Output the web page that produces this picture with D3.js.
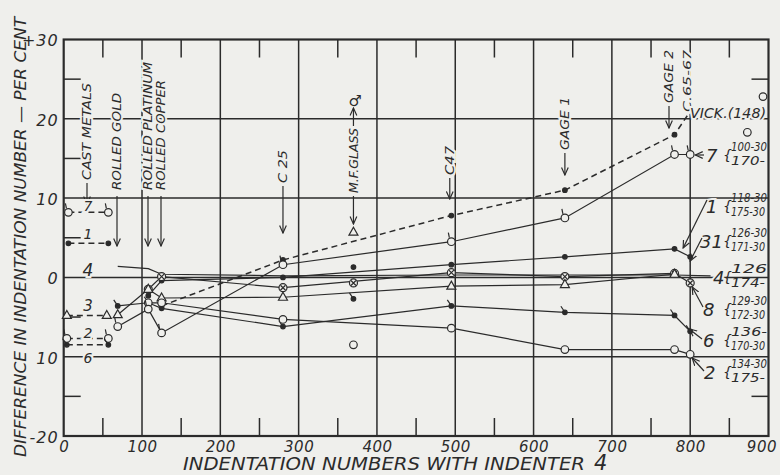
<!DOCTYPE html>
<html>
<head>
<meta charset="utf-8">
<script src="https://cdn.jsdelivr.net/npm/d3@7"></script>
<style>
  body { margin: 0; background: #efefec; }
  svg { display: block; }
  text { font-family: "DejaVu Sans", sans-serif; font-style: italic; fill: #2b2b2b; }
</style>
</head>
<body>
<div id="chart"></div>
<script>
// ---- data ----
const xTicks = [0, 100, 200, 300, 400, 500, 600, 700, 800, 900];
const yTicks = [30, 20, 10, 0, -10, -20];
const yTickLabels = ["+30", "20", "10", "0", "10", "-20"];

// cast metals (dashed pairs)
const cast7 = [[6, 8.2], [57, 8.2]];
const cast1 = [[6, 4.3], [57, 4.3]];
const cast3 = [[4, -4.8], [55, -4.8]];
const cast2 = [[4, -7.7], [57, -7.7]];
const cast6 = [[4, -8.5], [57, -8.5]];

// main series
const s7 = [[69, -6.2], [108, -4.0], [125, -7.0], [280, 1.6], [495, 4.5], [640, 7.5], [780, 15.5], [800, 15.5]];
const vick = [[125, -3.6], [280, 2.2], [495, 7.8], [640, 11.0], [780, 18.0], [797, 20.5]];
const s1 = [[108, -2.3], [125, -0.4], [280, 0.0], [495, 1.6], [640, 2.6], [780, 3.6], [800, 2.6]];
const s4 = [[69, 1.4], [108, 1.1], [125, 0.4], [280, 0.2], [495, 0.3], [640, 0.3], [780, 0.3], [826, 0.2]];
const s8 = [[108, -1.5], [125, 0.1], [280, -1.3], [495, 0.6], [640, 0.1], [780, 0.5], [800, -0.7]];
const s3 = [[69, -4.7], [108, -1.5], [125, -2.6], [280, -2.5], [495, -1.1], [640, -0.9], [780, 0.4]];
const s6 = [[69, -3.6], [108, -3.2], [125, -3.9], [280, -6.2], [495, -3.6], [640, -4.4], [780, -4.8], [800, -6.8]];
const s2 = [[108, -3.2], [125, -3.2], [280, -5.3], [495, -6.4], [640, -9.1], [780, -9.1], [800, -9.7]];

// M.F. glass single points
const glassX = 370;
const glassVals = [5.7, 1.3, -0.7, -2.7, -8.5];
const glassKinds = ["tri", "dot", "cross", "dotTick", "circle"];

const sideLabels = [
  { n: "7", a: "100-30", b: "170-" },
  { n: "1", a: "118-30", b: "175-30" },
  { n: "31", a: "126-30", b: "171-30" },
  { n: "4", a: "126", b: "174-" },
  { n: "8", a: "129-30", b: "172-30" },
  { n: "6", a: "136-", b: "170-30" },
  { n: "2", a: "134-30", b: "175-" }
];

// ---- drawing ----
const W = 780, H = 475, ink = "#2b2b2b", bg = "#efefec";
const svg = d3.select("#chart").append("svg").attr("width", W).attr("height", H);
svg.append("rect").attr("width", W).attr("height", H).attr("fill", bg);

const x = d3.scaleLinear().domain([0, 900]).range([63.7, 768.5]);
const y = d3.scaleLinear().domain([-20, 30]).range([436, 39.5]);

svg.append("defs").append("marker")
  .attr("id", "ah").attr("viewBox", "0 0 10 10").attr("refX", 9).attr("refY", 5)
  .attr("markerWidth", 7).attr("markerHeight", 7).attr("orient", "auto-start-reverse")
  .append("path").attr("d", "M0,1 L9,5 L0,9").attr("fill", "none").attr("stroke", ink).attr("stroke-width", 1.4);

// grid
const grid = svg.append("g").attr("stroke", ink);
grid.selectAll(".vg").data(xTicks.slice(1, -1)).join("line")
  .attr("x1", d => x(d)).attr("x2", d => x(d)).attr("y1", y(30)).attr("y2", y(-20)).attr("stroke-width", 1.5);
grid.selectAll(".hg").data([20, 10, 0, -10]).join("line")
  .attr("x1", x(0)).attr("x2", x(900)).attr("y1", d => y(d)).attr("y2", d => y(d)).attr("stroke-width", 1.5);

// minor ticks
grid.selectAll(".tt").data(d3.range(50, 900, 100)).join("line")
  .attr("x1", d => x(d)).attr("x2", d => x(d)).attr("y1", y(30)).attr("y2", y(30) + 18).attr("stroke-width", 1.5);
grid.selectAll(".bt").data(d3.range(50, 900, 100)).join("line")
  .attr("x1", d => x(d)).attr("x2", d => x(d)).attr("y1", y(-20)).attr("y2", y(-20) - 18).attr("stroke-width", 1.5);
grid.selectAll(".lt").data([25, 15, 5, -5, -15]).join("line")
  .attr("x1", x(0)).attr("x2", x(0) + 17).attr("y1", d => y(d)).attr("y2", d => y(d)).attr("stroke-width", 1.5);
grid.selectAll(".rt").data([25, -15]).join("line")
  .attr("x1", x(900)).attr("x2", x(900) - 17).attr("y1", d => y(d)).attr("y2", d => y(d)).attr("stroke-width", 1.5);

svg.append("rect").attr("x", x(0)).attr("y", y(30)).attr("width", x(900) - x(0)).attr("height", y(-20) - y(30))
  .attr("fill", "none").attr("stroke", ink).attr("stroke-width", 2.2);

// axes labels
const xAxis = svg.append("g").attr("transform", `translate(0,${y(-20)})`)
  .call(d3.axisBottom(x).tickValues(xTicks).tickSize(0).tickPadding(5));
xAxis.select(".domain").remove();
xAxis.selectAll("text").attr("font-size", 15).attr("font-family", "DejaVu Sans").attr("fill", ink)
  .attr("letter-spacing", 0.5)
  .attr("text-anchor", d => d === 900 ? "end" : "middle")
  .attr("dx", d => d === 900 ? 8 : 0);

const yAxis = svg.append("g").attr("transform", `translate(${x(0)},0)`)
  .call(d3.axisLeft(y).tickValues(yTicks).tickSize(0).tickPadding(5)
    .tickFormat((d, i) => yTickLabels[i]));
yAxis.select(".domain").remove();
yAxis.selectAll("text").attr("font-size", 16).attr("font-family", "DejaVu Sans").attr("fill", ink)
  .attr("letter-spacing", 1).attr("dy", "0.4em");

svg.append("text").attr("x", 183).attr("y", 470).attr("font-size", 17)
  .attr("textLength", 402).attr("lengthAdjust", "spacingAndGlyphs")
  .text("INDENTATION NUMBERS WITH INDENTER");
svg.append("text").attr("x", 594).attr("y", 470).attr("font-size", 21).text("4");

svg.append("text").attr("transform", "translate(26,457) rotate(-90)").attr("font-size", 16)
  .attr("textLength", 440).attr("lengthAdjust", "spacingAndGlyphs")
  .text("DIFFERENCE IN INDENTATION NUMBER \u2014 PER CENT");

// series
const line = d3.line().x(d => x(d[0])).y(d => y(d[1]));
const plot = svg.append("g").attr("fill", "none").attr("stroke", ink);

function drawLine(data, dashed) {
  plot.append("path").datum(data).attr("d", line).attr("stroke-width", dashed ? 1.5 : 1.2)
    .attr("stroke-dasharray", dashed ? "6,4" : null);
}

function marker(kind, d) {
  const px = x(d[0]), py = y(d[1]);
  const g = svg.append("g").attr("stroke", ink).attr("stroke-width", 1.2);
  if (kind === "circle" || kind === "circleFlag") {
    g.append("circle").attr("cx", px).attr("cy", py).attr("r", 3.8).attr("fill", bg);
    if (kind === "circleFlag") g.append("line").attr("x1", px - 2).attr("y1", py - 4).attr("x2", px - 3).attr("y2", py - 9);
  } else if (kind === "dot") {
    g.append("circle").attr("cx", px).attr("cy", py).attr("r", 2.3).attr("fill", ink);
  } else if (kind === "dotTick") {
    g.append("circle").attr("cx", px).attr("cy", py).attr("r", 2.3).attr("fill", ink);
    g.append("line").attr("x1", px).attr("y1", py).attr("x2", px - 4).attr("y2", py - 6);
  } else if (kind === "tri") {
    g.append("path").attr("d", `M${px},${py - 5}L${px + 4.5},${py + 3}L${px - 4.5},${py + 3}Z`).attr("fill", bg);
  } else if (kind === "cross") {
    g.append("circle").attr("cx", px).attr("cy", py).attr("r", 4).attr("fill", bg);
    g.append("path").attr("d", `M${px - 2.5},${py - 2.5}L${px + 2.5},${py + 2.5}M${px + 2.5},${py - 2.5}L${px - 2.5},${py + 2.5}`);
  }
}

[cast7, cast1, cast3, cast2, cast6].forEach(s => drawLine(s, true));
drawLine(vick, true);
[s7, s1, s4, s8, s3, s6, s2].forEach(s => drawLine(s, false));

cast7.forEach(d => marker("circleFlag", d));
cast1.forEach(d => marker("dot", d));
cast3.forEach(d => marker("tri", d));
cast2.forEach(d => marker("circleFlag", d));
cast6.forEach(d => marker("dotTick", d));
vick.slice(0, -1).forEach(d => marker("dot", d));
s1.forEach(d => marker("dot", d));
s8.forEach(d => marker("cross", d));
s3.forEach(d => marker("tri", d));
s6.forEach(d => marker("dotTick", d));
s2.forEach(d => marker("circle", d));
s7.forEach(d => marker("circleFlag", d));
glassVals.forEach((v, i) => marker(glassKinds[i], [glassX, v]));
marker("circle", [893, 22.8]);
marker("circle", [873, 18.3]);

// vertical annotations
const halo = t => t.attr("stroke", bg).attr("stroke-width", 4).attr("paint-order", "stroke");
function vText(str, xc, bottom, top, fs) {
  svg.append("text").attr("transform", `translate(${xc + fs * 0.36},${bottom}) rotate(-90)`)
    .attr("font-size", fs).attr("textLength", bottom - top).attr("lengthAdjust", "spacingAndGlyphs")
    .call(halo).text(str);
}
function arrow(x1, y1, x2, y2) {
  svg.append("line").attr("x1", x1).attr("y1", y1).attr("x2", x2).attr("y2", y2)
    .attr("stroke", ink).attr("stroke-width", 1.2).attr("marker-end", "url(#ah)");
}

vText("CAST METALS", 87, 180, 83, 12); arrow(87, 183, 87, 204);
vText("ROLLED GOLD", 117, 190, 93, 12); arrow(117, 196, 117, 246);
vText("ROLLED PLATINUM", 148, 190, 62, 12); arrow(148, 196, 148, 246);
vText("ROLLED COPPER", 161, 190, 80, 12); arrow(161, 196, 161, 246);
vText("C 25", x(280), 183, 150, 12); arrow(x(280), 186, x(280), 233);
vText("M.F.GLASS", x(370), 193, 128, 12); arrow(x(370), 196, x(370), 224); arrow(x(370), 126, x(370), 108);
svg.append("text").attr("x", x(370) - 5).attr("y", 106).attr("font-size", 15).attr("font-style", "normal").text("\u2642");
vText("C47", x(493), 175, 146, 12); arrow(x(493), 178, x(493), 199);
vText("GAGE 1", x(640), 150, 97, 12); arrow(x(640), 153, x(640), 175);
vText("GAGE 2", 669, 103, 50, 12); arrow(669, 106, 669, 128);
vText("C.65-67", 687, 112, 50, 11);
svg.append("text").attr("x", 690).attr("y", 118).attr("font-size", 14)
  .attr("textLength", 76).attr("lengthAdjust", "spacingAndGlyphs").call(halo).text("VICK.(148)");

// left labels
[["7", 211, 14], ["1", 239, 14], ["4", 276, 17], ["3", 311, 15], ["2", 338, 14], ["6", 363, 14]]
  .forEach(([t, by, fs]) => svg.append("text").attr("x", 88).attr("y", by).attr("font-size", fs)
    .attr("text-anchor", "middle").call(halo).text(t));

// right labels
const rightPos = [[706, 162], [706, 213], [700, 248], [713, 284], [703, 316], [703, 347], [704, 379]];
sideLabels.forEach((d, i) => {
  const [lx, ly] = rightPos[i];
  svg.append("text").attr("x", lx).attr("y", ly).attr("font-size", 18).call(halo).text(d.n);
  svg.append("text").attr("x", 723).attr("y", ly - 2).attr("font-size", 14).attr("font-style", "normal").text("{");
  svg.append("text").attr("x", 731).attr("y", ly - 11).attr("font-size", 12)
    .attr("textLength", 36).attr("lengthAdjust", "spacingAndGlyphs").text(d.a);
  svg.append("text").attr("x", 731).attr("y", ly + 3).attr("font-size", 12)
    .attr("textLength", 34).attr("lengthAdjust", "spacingAndGlyphs").text(d.b);
});
arrow(704, 155, x(800) + 5, 155);
arrow(707, 200, x(791), 248);
arrow(702, 238, x(800), 261);
arrow(703, 307, x(800) + 2, 287);
arrow(702, 339, x(800) - 1, 329);
arrow(704, 371, x(800) + 2, 358);
</script>
</body>
</html>
